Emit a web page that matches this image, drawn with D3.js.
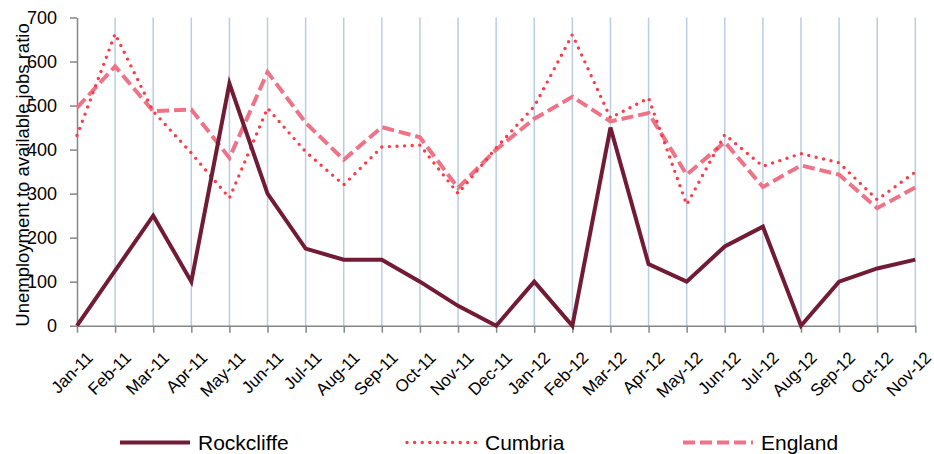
<!DOCTYPE html>
<html>
<head>
<meta charset="utf-8">
<script src="https://cdn.jsdelivr.net/npm/d3@7"></script>
<style>
  body { margin: 0; background: #fff; }
  svg { display: block; font-family: "Liberation Sans", Arial, sans-serif; }
</style>
</head>
<body>
<svg id="chart" width="934" height="454"></svg>
<script>
const months = ["Jan-11","Feb-11","Mar-11","Apr-11","May-11","Jun-11","Jul-11","Aug-11","Sep-11","Oct-11","Nov-11","Dec-11",
                "Jan-12","Feb-12","Mar-12","Apr-12","May-12","Jun-12","Jul-12","Aug-12","Sep-12","Oct-12","Nov-12"];
const rockcliffe = [0,125,250,100,550,300,175,150,150,100,45,0,100,0,450,140,100,180,225,0,100,130,150];
const cumbria    = [432,663,487,392,290,494,395,320,406,410,300,404,498,661,472,517,275,434,362,391,370,286,349];
const england    = [495,589,487,491,381,576,461,377,451,428,313,400,470,520,464,483,343,417,315,364,343,267,314];
const yTicks = [0,100,200,300,400,500,600,700];
const seriesNames = ["Rockcliffe","Cumbria","England"];

const svg = d3.select("#chart");
const plotLeft = 77, plotRight = 915.3, plotTop = 17.5, plotBottom = 325.7;

const x = d3.scalePoint().domain(months).range([plotLeft, plotRight]);
const y = d3.scaleLinear().domain([0, 700]).range([plotBottom, plotTop]);

// vertical gridlines
svg.append("g").selectAll("line").data(months.slice(1)).join("line")
  .attr("x1", d => x(d)).attr("x2", d => x(d))
  .attr("y1", plotTop).attr("y2", plotBottom)
  .attr("stroke", "#b9cde5").attr("stroke-width", 1.5);

// y axis
const yAxis = svg.append("g").attr("transform", `translate(${plotLeft},0)`)
  .call(d3.axisLeft(y).tickValues(yTicks).tickSize(7).tickPadding(13).tickSizeOuter(0));
yAxis.select(".domain").attr("stroke", "#868686").attr("stroke-width", 1.5);
yAxis.selectAll(".tick line").attr("stroke", "#868686").attr("stroke-width", 1.5);
yAxis.selectAll(".tick text").attr("font-size", 18).attr("fill", "#000")
  .attr("font-family", "Liberation Sans, Arial, sans-serif");

// x axis
const xAxis = svg.append("g").attr("transform", `translate(0,${plotBottom})`)
  .call(d3.axisBottom(x).tickSize(7).tickSizeOuter(0));
xAxis.select(".domain").attr("stroke", "#868686").attr("stroke-width", 1.5);
xAxis.selectAll(".tick line").attr("stroke", "#868686").attr("stroke-width", 1.5);
xAxis.selectAll(".tick text")
  .attr("font-size", 17).attr("fill", "#000")
  .attr("font-family", "Liberation Sans, Arial, sans-serif")
  .attr("text-anchor", "end")
  .attr("dy", 0)
  .attr("y", 0)
  .attr("transform", "translate(16.5,33) rotate(-45)");

// y axis title
svg.append("text")
  .attr("transform", "translate(29,175) rotate(-90)")
  .attr("text-anchor", "middle")
  .attr("font-size", 18.5)
  .attr("fill", "#000")
  .text("Unemployment to available jobs ratio");

const styles = {
  Rockcliffe: { color: "#721b35", width: 4, dash: null, cap: "butt" },
  Cumbria:    { color: "#ff3a48", width: 3.4, dash: "0,7.6", cap: "round" },
  England:    { color: "#ee7387", width: 4, dash: "12,5", cap: "butt" }
};
const dataBy = { Rockcliffe: rockcliffe, Cumbria: cumbria, England: england };

const line = d3.line().x((d, i) => x(months[i])).y(d => y(d));

["England", "Cumbria", "Rockcliffe"].forEach(name => {
  const s = styles[name];
  svg.append("path")
    .datum(dataBy[name])
    .attr("fill", "none")
    .attr("stroke", s.color)
    .attr("stroke-width", s.width)
    .attr("stroke-dasharray", s.dash)
    .attr("stroke-linecap", s.cap)
    .attr("stroke-linejoin", "miter")
    .attr("d", line);
});

// legend
const legendX = [120, 407, 683];
const legend = svg.append("g");
seriesNames.forEach((name, i) => {
  const s = styles[name];
  const lx = legendX[i];
  legend.append("line")
    .attr("x1", lx).attr("x2", lx + 70)
    .attr("y1", 442.5).attr("y2", 442.5)
    .attr("stroke", s.color).attr("stroke-width", s.width)
    .attr("stroke-dasharray", s.dash)
    .attr("stroke-linecap", s.cap);
  legend.append("text")
    .attr("x", lx + 78).attr("y", 450)
    .attr("font-size", 21).attr("fill", "#000")
    .text(name);
});
</script>
</body>
</html>
